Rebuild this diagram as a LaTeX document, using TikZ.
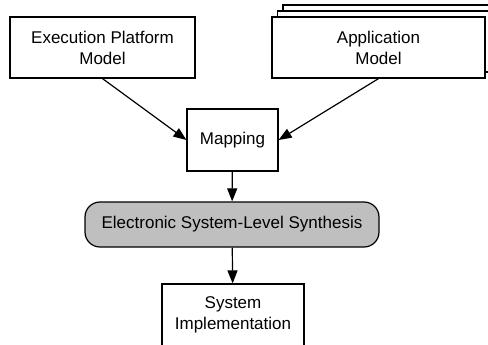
\documentclass[tikz,border=0pt]{standalone}
\usepackage{fontspec}
\setmainfont{Liberation Sans}
\usetikzlibrary{arrows.meta,positioning,shadows}
\tikzset{
  box/.style={rectangle, draw=black, fill=#1, line width=1.2pt, align=center,
              minimum width=185pt, minimum height=61pt, inner sep=2pt},
  box/.default={white},
  arr/.style={-{Triangle[length=13pt, width=10pt]}, line width=1.2pt, black},
}
\begin{document}
\begin{tikzpicture}[x=1pt, y=-1pt, font=\fontsize{17}{21}\selectfont]
\useasboundingbox (0,0) rectangle (488,345);
\clip (0,0) rectangle (488,345);
\node[box] (platform) at (102.5,47.5) {Execution Platform\\Model};
\node[box, minimum width=213pt,
      double copy shadow={shadow xshift=5.5pt, shadow yshift=6pt, line width=1.2pt}]
      (application) at (378.5,47.5) {Application\\Model};
\node[box, minimum width=91pt, minimum height=62pt] (mapping) at (232.5,140) {Mapping};
\node[box=black!25, rounded corners=15pt, minimum width=294pt, minimum height=45pt]
      (esl) at (232,224.5) {Electronic System-Level Synthesis};
\node[box, minimum width=142pt, minimum height=62pt] (impl) at (233,315) {System\\Implementation};
\draw[arr] (platform.south) -- (mapping.west);
\draw[arr] (application.south) -- (mapping.east);
\draw[arr] (mapping) -- (esl);
\draw[arr] (esl) -- (impl);
\end{tikzpicture}
\end{document}
